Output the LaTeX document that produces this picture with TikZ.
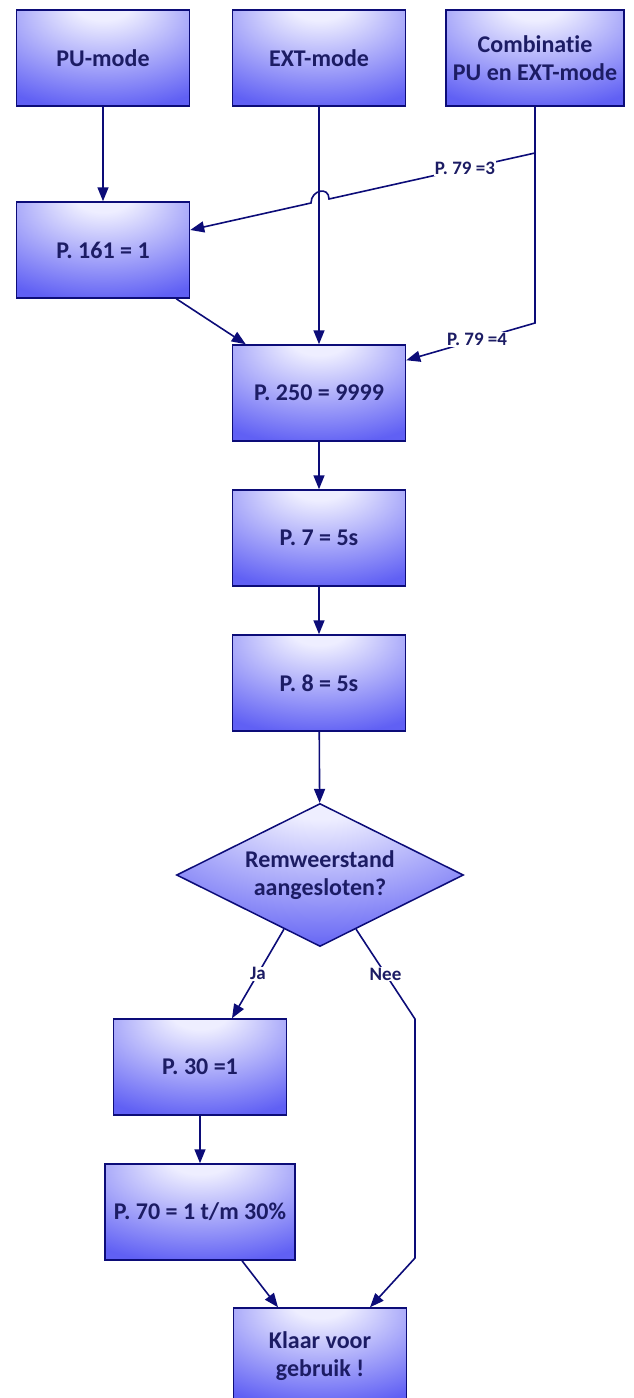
\documentclass[tikz,border=0pt]{standalone}
\usepackage{fontspec}
\setmainfont{Carlito}[Ligatures=NoCommon]
\usetikzlibrary{arrows.meta,shapes.geometric,calc}
\definecolor{lijn}{RGB}{12,12,120}
\definecolor{tekst}{RGB}{28,28,100}
\definecolor{licht}{RGB}{238,238,255}
\definecolor{vlak}{RGB}{96,96,244}
\pgfdeclareradialshading{glans}{\pgfpoint{0bp}{30bp}}{color(0bp)=(licht); color(8bp)=(licht); color(44bp)=(vlak); color(100bp)=(vlak)}
\begin{document}
\begin{tikzpicture}[x=1pt, y=-1pt,
    blok/.style={draw=lijn, line width=1.5pt, shade, shading=glans,
      minimum width=173pt, minimum height=96pt, inner sep=2pt, align=center,
      text=tekst, font=\bfseries\fontsize{24}{28}\selectfont},
    keuze/.style={blok, shape=diamond, aspect=2, inner sep=0pt,
      minimum width=287pt, minimum height=143pt},
    pijl/.style={draw=lijn, line width=1.6pt, -{Triangle[length=14pt,width=11pt]}},
    lbl/.style={fill=white, text=tekst, inner sep=1pt,
      font=\bfseries\fontsize{19}{21}\selectfont}]
  \useasboundingbox (0,0) rectangle (634,1398);
  % Modi
  \node[blok] (pu) at (103,58) {PU-mode};
  \node[blok] (ext) at (319,58) {EXT-mode};
  \node[blok, minimum width=178pt] (comb) at (535,58) {Combinatie\\PU en EXT-mode};
  % Parameters
  \node[blok] (p161) at (103,250) {P. 161 = 1};
  \node[blok] (p250) at (319,393) {P. 250 = 9999};
  \node[blok] (p7) at (319,538) {P. 7 = 5s};
  \node[blok] (p8) at (319,683) {P. 8 = 5s};
  % Keuze
  \node[keuze] (rem) at (320,875) {Remweerstand\\aangesloten?};
  \node[blok] (p30) at (200,1067) {P. 30 =1};
  \node[blok, minimum width=190pt] (p70) at (200,1212) {P. 70 = 1 t/m 30\%};
  \node[blok] (klaar) at (320,1356) {Klaar voor\\gebruik !};
  % Hulppunten
  \coordinate (split3) at (535,153);
  \coordinate (split4) at (535,323);
  \coordinate (hopR) at (329,199);
  \coordinate (hopL) at (311,203);
  \coordinate (neeA) at (415,1019);
  \coordinate (neeB) at (415,1258);
  % Verbindingen
  \draw[pijl] (pu) -- (p161);
  \draw[pijl] (ext) -- (p250);
  \draw[pijl] (comb) -- (split3) -- node[lbl, pos=0.34] {P. 79 =3} (hopR)
    .. controls +(0,-13) and +(0,-13) .. (hopL) -- ([yshift=20pt]p161.east);
  \draw[pijl] (split3) -- (split4) -- node[lbl, pos=0.45] {P. 79 =4} ([yshift=-16pt]p250.north east);
  \draw[pijl] ([xshift=-14pt]p161.south east) -- ([xshift=14pt]p250.north west);
  \draw[pijl] (p250) -- (p7);
  \draw[pijl] (p7) -- (p8);
  \draw[pijl] (p8) -- (rem);
  % Ja en Nee
  \draw[pijl] ($(rem.south)!0.25!(rem.west)$) -- node[lbl] {Ja} ([xshift=32pt]p30.north);
  \draw[pijl] ($(rem.south)!0.25!(rem.east)$) -- node[lbl] {Nee} (neeA) -- (neeB)
    -- ([xshift=50pt]klaar.north);
  \draw[pijl] (p30) -- (p70);
  \draw[pijl] ([xshift=42pt]p70.south) -- ([xshift=-42pt]klaar.north);
\end{tikzpicture}
\end{document}
